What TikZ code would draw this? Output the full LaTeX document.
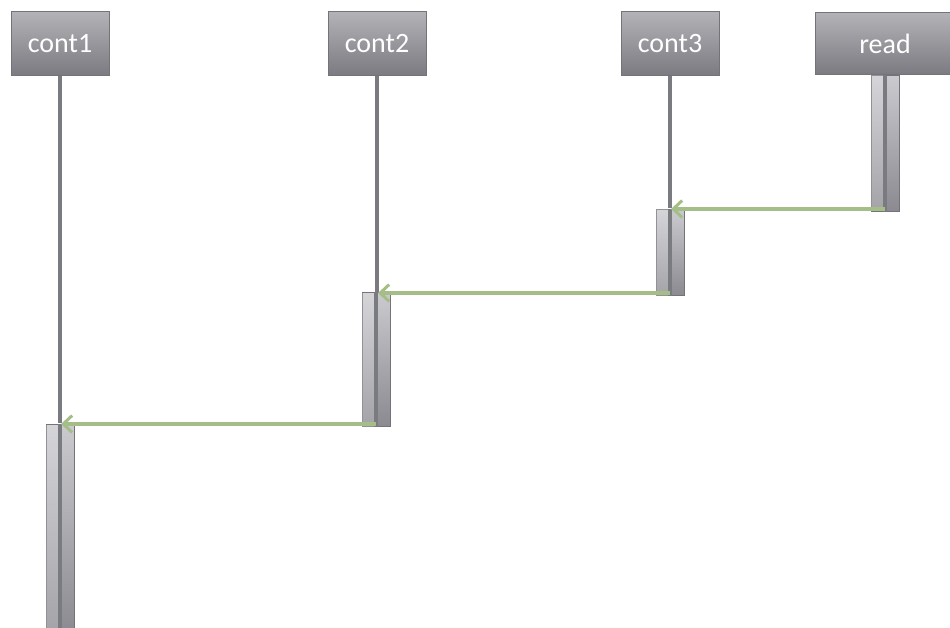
\documentclass[tikz,border=0pt]{standalone}
\usepackage{fontspec}
\setmainfont{Carlito}
\usetikzlibrary{arrows.meta}
\definecolor{boxtop}{RGB}{178,178,183}
\definecolor{boxbot}{RGB}{122,122,128}
\definecolor{boxedge}{RGB}{115,115,121}
\definecolor{acttop}{RGB}{202,202,207}
\definecolor{actbot}{RGB}{138,138,144}
\definecolor{lifecol}{RGB}{122,122,129}
\definecolor{msgcol}{RGB}{165,190,135}
\newcommand{\boxtext}[1]{\raisebox{-4pt}{#1}}
\begin{document}
\begin{tikzpicture}[x=1pt,y=-1pt,
  objbox/.style={draw=boxedge, line width=1pt, top color=boxtop, bottom color=boxbot,
    minimum width=98pt, minimum height=64pt, inner sep=0pt, text=white,
    font=\fontsize{28}{28}\selectfont},
  actbar/.style={draw=boxedge, line width=1pt, top color=acttop, bottom color=actbot,
    minimum width=28pt, inner sep=0pt, anchor=north},
  lifeline/.style={draw=lifecol, line width=3.2pt},
  msg/.style={draw=msgcol, line width=3.2pt,
    -{Straight Barb[length=9pt,width=17pt,line width=3pt]}}]
\useasboundingbox (0,0) rectangle (950,628);

% participants
\node[objbox] (c1) at (60,44) {\boxtext{cont1}};
\node[objbox] (c2) at (377,44) {\boxtext{cont2}};
\node[objbox] (c3) at (670,44) {\boxtext{cont3}};
\node[objbox, minimum width=140pt, minimum height=62pt] (rd) at (885,44) {\boxtext{read}};

% lifelines above the activations
\draw[lifeline] (c1.south) -- (60,423);
\draw[lifeline] (c2.south) -- (377,292);
\draw[lifeline] (c3.south) -- (670,208);

% activation bars
\node[actbar, minimum height=136pt] (a4) at (885,75) {};
\node[actbar, minimum height=86pt] (a3) at (670,209) {};
\node[actbar, minimum height=134pt] (a2) at (376,292) {};
\node[actbar, minimum height=210pt] (a1) at (60,424) {};

% lighter left half and lifeline through each bar
\foreach \a in {a1,a2,a3,a4} {
  \fill[white, opacity=0.22] ([xshift=0.5pt,yshift=-0.5pt]\a.north west) rectangle ([yshift=0.5pt]\a.south);
  \draw[lifeline] (\a.north) -- (\a.south);
}

% messages
\coordinate (m1s) at (885,209);
\coordinate (m1e) at (671,209);
\coordinate (m2s) at (670,293);
\coordinate (m2e) at (378,293);
\coordinate (m3s) at (376,424);
\coordinate (m3e) at (61,424);
\draw[msg] (m1s) -- (m1e);
\draw[msg] (m2s) -- (m2e);
\draw[msg] (m3s) -- (m3e);
\end{tikzpicture}
\end{document}
